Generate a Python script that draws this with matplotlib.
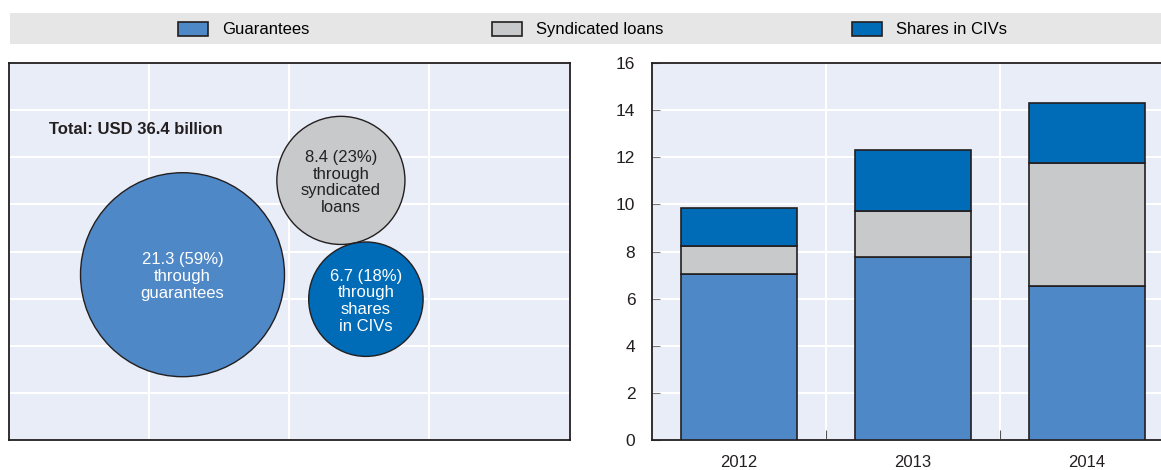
import numpy as np
import matplotlib.pyplot as plt
from matplotlib.patches import Circle, Rectangle

plt.rcParams['font.family'] = ['Liberation Sans', 'DejaVu Sans']

# Totals by instrument (USD billion)
instruments = ['Guarantees', 'Syndicated loans', 'Shares in CIVs']
totals = [21.3, 8.4, 6.7]
shares_pct = [59, 23, 18]
bubble_text = ['through\nguarantees', 'through\nsyndicated\nloans', 'through\nshares\nin CIVs']

# Annual amounts (USD billion)
years = ['2012', '2013', '2014']
guarantees = [7.05, 7.76, 6.52]
syndicated = [1.19, 1.98, 5.24]
civs = [1.61, 2.58, 2.53]

colors = ['#4f88c6', '#c8c9cb', '#006bb6']
text_colors = ['white', '#222222', 'white']
bg = '#e9edf7'
edge = '#231f20'

W, H = 1161, 470
fig = plt.figure(figsize=(W / 100, H / 100), dpi=100)

# legend band
fig.patches.append(Rectangle((10 / W, 1 - 44 / H), 1 - 10 / W, 31 / H,
                             transform=fig.transFigure, facecolor='#e6e6e6',
                             edgecolor='none', zorder=0))

# ---- left panel: bubbles ----
axl = fig.add_axes([9 / W, 30 / H, 561 / W, 377 / H])
axl.set_xlim(0, 561)
axl.set_ylim(0, 377)
axl.set_facecolor(bg)
axl.set_xticks([140, 280, 420])
axl.set_yticks(np.arange(1, 8) * 377 / 8)
axl.tick_params(length=0, labelbottom=False, labelleft=False)
axl.grid(True, color='white', lw=1.5)
axl.set_axisbelow(True)
for s in axl.spines.values():
    s.set_color(edge)
    s.set_linewidth(1.3)

centers = [(173.5, 165.3), (331.9, 259.6), (356.9, 140.8)]
k = 22.1  # radius per sqrt(USD billion)
for (cx, cy), v, p, t, c, tc in zip(centers, totals, shares_pct, bubble_text, colors, text_colors):
    axl.add_patch(Circle((cx, cy), k * np.sqrt(v), facecolor=c, edgecolor=edge, lw=1.0, zorder=3))
    axl.text(cx, cy - 2, f'{v} ({p}%)\n{t}', ha='center', va='center', color=tc,
             fontsize=12, linespacing=1.15, zorder=4)
axl.text(40, 310, 'Total: USD 36.4 billion', fontsize=12, fontweight='bold',
         color='#231f20', va='center')

# ---- right panel: stacked bars ----
axr = fig.add_axes([652 / W, 30 / H, 522 / W, 377 / H])
axr.set_facecolor(bg)
x = np.arange(len(years))
b1 = axr.bar(x, guarantees, 0.667, color=colors[0], edgecolor=edge, lw=1.2, zorder=3)
b2 = axr.bar(x, syndicated, 0.667, bottom=guarantees, color=colors[1], edgecolor=edge, lw=1.2, zorder=3)
bottom3 = np.array(guarantees) + np.array(syndicated)
b3 = axr.bar(x, civs, 0.667, bottom=bottom3, color=colors[2], edgecolor=edge, lw=1.2, zorder=3)
axr.set_xlim(-0.5, 2.5)
axr.set_ylim(0, 16)
axr.set_yticks(range(0, 17, 2))
axr.set_xticks([0.5, 1.5])
axr.set_xticklabels([])
axr.set_xticks(x, minor=True)
axr.set_xticklabels(years, minor=True)
axr.tick_params(axis='x', which='major', direction='in', length=7, color='#555555')
axr.tick_params(axis='x', which='minor', length=0, pad=11, labelsize=12, labelcolor='#231f20')
axr.tick_params(axis='y', direction='in', length=6, color='#777777', pad=12,
                labelsize=12.5, labelcolor='#231f20')
axr.grid(True, which='major', color='white', lw=1.5)
axr.set_axisbelow(True)
for s in axr.spines.values():
    s.set_color(edge)
    s.set_linewidth(1.3)

# one legend entry per column of the band
for h, lab, lx in zip([b1, b2, b3], instruments, [178, 492, 852]):
    fig.legend([h], [lab], loc='center left', bbox_to_anchor=(lx / W, 1 - 29.5 / H),
               frameon=False, fontsize=12, handlelength=1.8, handleheight=0.9,
               handletextpad=0.85, borderpad=0, borderaxespad=0)

fig.savefig('out.png', dpi=100)
